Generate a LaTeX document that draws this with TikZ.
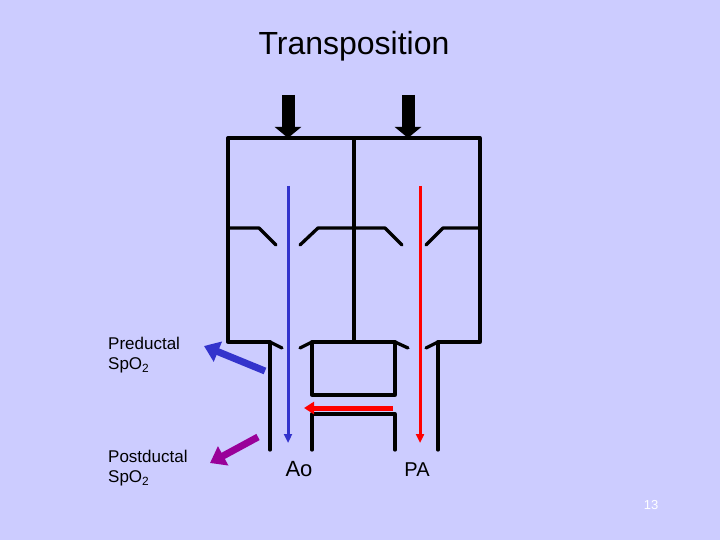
\documentclass[tikz,border=0pt]{standalone}
\usepackage{fontspec}
\setmainfont{Liberation Sans}
\usetikzlibrary{arrows.meta}
\definecolor{bg}{RGB}{204,204,255}
\definecolor{bl}{RGB}{51,51,204}
\definecolor{pu}{RGB}{153,0,153}
\begin{document}
\begin{tikzpicture}[x=1pt,y=-1pt,
  wall/.style={line width=3.3pt,line cap=round,line join=round},
  flow/.style={line width=3pt,-{Triangle[length=9pt,width=8pt]}},
  fat/.style={line width=7pt,-{Triangle[length=15pt,width=21pt]}},
  lbl/.style={anchor=north west,align=left,font=\fontsize{17}{20}\selectfont,inner sep=0pt}]
\fill[bg] (0,0) rectangle (720,540);
\useasboundingbox (0,0) rectangle (720,540);
\node (t) at (354,46) {\fontsize{32}{36}\selectfont Transposition};
% outer box
\draw[wall] (270,450) -- (270,342) -- (228,342) -- (228,138) -- (480,138) -- (480,342) -- (438,342) -- (438,450);
\draw[wall] (354,138) -- (354,342);
\draw[wall] (312,450) -- (312,414) -- (395,414) -- (395,450);
\draw[wall] (312,342) rectangle (395,395);
% lips
\draw[wall] (270,342) -- (282,348);
\draw[wall] (300,348) -- (312,342);
\draw[wall] (395,342) -- (408,348);
\draw[wall] (426,348) -- (438,342);
% valves
\draw[wall] (228,228) -- (259,228) -- (276,245);
\draw[wall] (300,245) -- (318,228) -- (354,228) -- (385,228) -- (402,245);
\draw[wall] (426,245) -- (443,228) -- (480,228);
% inflow arrows
\coordinate (a1) at (288,95); \coordinate (b1) at (288,138);
\coordinate (a2) at (408,95); \coordinate (b2) at (408,138);
\draw[line width=13pt,-{Triangle[length=11pt,width=26pt]}] (a1) -- (b1);
\draw[line width=13pt,-{Triangle[length=11pt,width=26pt]}] (a2) -- (b2);
% flows
\coordinate (c1) at (288,186); \coordinate (d1) at (288,443);
\coordinate (c2) at (420,186); \coordinate (d2) at (420,443);
\coordinate (e1) at (393,408); \coordinate (e2) at (304,408);
\draw[flow,bl] (c1) -- (d1);
\draw[flow,red] (c2) -- (d2);
\draw[line width=5pt,red,-{Triangle[length=10pt,width=12pt]}] (e1) -- (e2);
\coordinate (f1) at (265,371); \coordinate (f2) at (204,346);
\coordinate (g1) at (258,437); \coordinate (g2) at (210,463);
\draw[fat,bl] (f1) -- (f2);
\draw[fat,pu] (g1) -- (g2);
% labels
\node[lbl] (pre) at (108,337) {Preductal\\SpO\textsubscript{2}};
\node[lbl] (post) at (108,450) {Postductal\\SpO\textsubscript{2}};
\node (ao) at (299,469) {\fontsize{22}{26}\selectfont Ao};
\node (pa) at (417,470) {\fontsize{20}{24}\selectfont PA};
\node[text=white] (n) at (651,505) {\fontsize{13}{15}\selectfont\rmfamily 13};
\end{tikzpicture}
\end{document}
